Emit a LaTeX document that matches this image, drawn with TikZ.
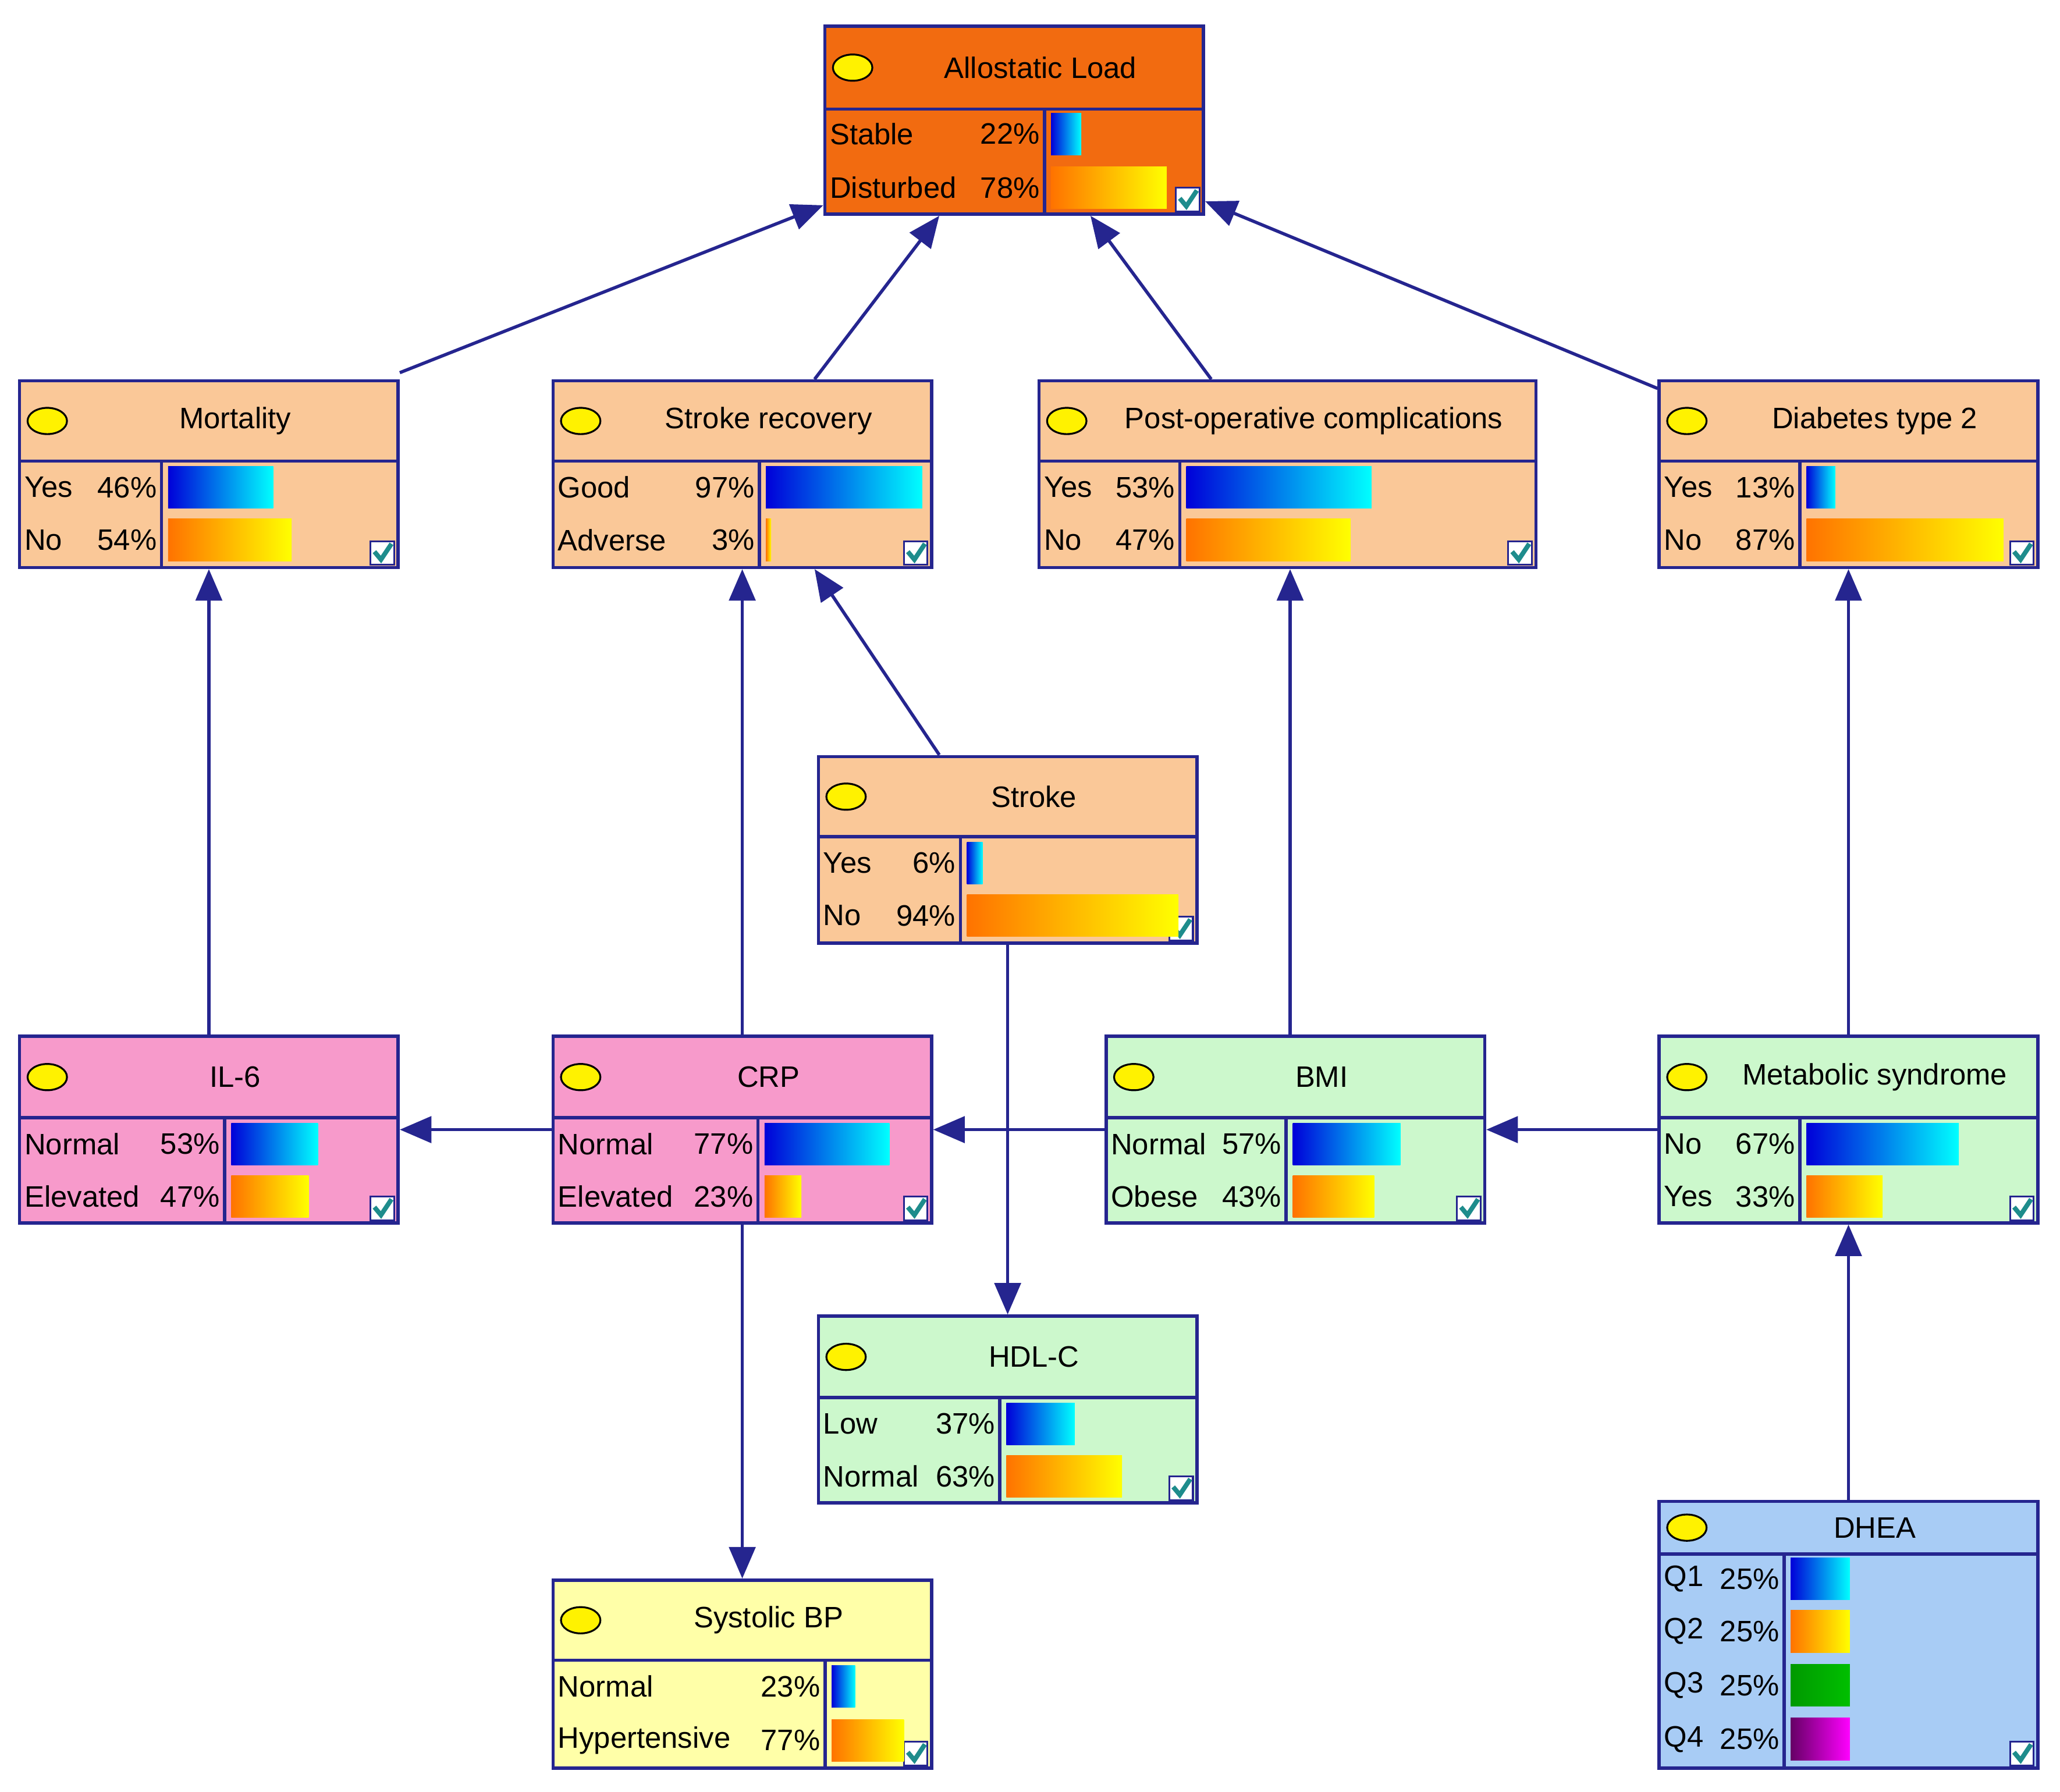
\documentclass[tikz,border=0pt]{standalone}
\usepackage{fontspec}
\setmainfont{Liberation Sans}
\usetikzlibrary{arrows.meta}
\definecolor{navy}{HTML}{25258F}
\definecolor{alc}{HTML}{F26B10}
\definecolor{peach}{HTML}{FAC898}
\definecolor{pinkc}{HTML}{F79ACB}
\definecolor{greenc}{HTML}{CCF8CC}
\definecolor{yelc}{HTML}{FFFFA8}
\definecolor{bluec}{HTML}{A8CCF5}
\definecolor{chk}{HTML}{1E8C8C}
\tikzset{
 box/.style={draw=navy, line width=0.7pt, inner sep=0pt, rectangle},
 boxline/.style={draw=navy, line width=0.7pt},
 ttl/.style={font=\fontsize{6.4}{7}\selectfont, inner sep=0pt},
 lbl/.style={font=\fontsize{6.4}{7}\selectfont, inner sep=0pt},
 edge/.style={draw=navy, line width=0.7pt, -{Triangle[length=0.24cm,width=0.2cm]}},
 bshade/.style={left color=blue!85!black, right color=cyan},
 oshade/.style={left color=orange!90!red, right color=yellow},
 gshade/.style={left color=green!60!black, right color=green!75!black},
 pshade/.style={left color=violet!80!black, right color=magenta},
}
\newcommand\bn[9]{%
 \pgfmathsetmacro\bw{(#4-#2)/100}\pgfmathsetmacro\bh{(#5-#3)/100}%
 \node[box, fill=#8, minimum width=\bw cm, minimum height=\bh cm] (#1) at ({(#2+#4)/2},{(#3+#5)/2}) {};
 \draw[boxline] (#2,#6) -- (#4,#6);
 \draw[boxline] (#7,#6) -- (#7,#5);
 \filldraw[fill=yellow, draw=black, line width=0.4pt] (#2+21,{(#3+#6)/2}) ellipse [x radius=15, y radius=10];
 \node[ttl] at ({(#2+40+#4)/2},{(#3+#6)/2}) {#9};
 \draw[fill=white, draw=navy, line width=0.4pt] (#4-21,#5-20) rectangle (#4-3,#5-2);
 \draw[chk, line width=1pt] (#4-18,#5-12) -- (#4-13,#5-6) -- (#4-5,#5-18);
}
\newcommand\brow[7]{%
 \node[lbl,anchor=west] at (#1+3,#3) {#4};
 \node[lbl,anchor=east] at (#2-3,#3) {#5};
 \shade[#7] (#2+5,#3-16) rectangle (#6,#3+16);
}
\begin{document}
\begin{tikzpicture}[x=0.01cm,y=-0.01cm]
\useasboundingbox (0,0) rectangle (1568,1364);
% Allostatic
\bn{al}{628}{20}{916}{163}{83}{795}{alc}{Allostatic Load}
\brow{628}{795}{102}{Stable}{22\%}{823}{bshade}
\brow{628}{795}{143}{Disturbed}{78\%}{888}{oshade}
% Mortality
\bn{mort}{15}{290}{303}{432}{351}{123}{peach}{Mortality}
\brow{15}{123}{371}{Yes}{46\%}{208}{bshade}
\brow{15}{123}{411}{No}{54\%}{222}{oshade}
% Stroke recovery
\bn{sr}{421}{290}{709}{432}{351}{578}{peach}{Stroke recovery}
\brow{421}{578}{371}{Good}{97\%}{702}{bshade}
\brow{421}{578}{411}{Adverse}{3\%}{587}{oshade}
% Post-op
\bn{post}{791}{290}{1169}{432}{351}{898}{peach}{Post-operative complications}
\brow{791}{898}{371}{Yes}{53\%}{1044}{bshade}
\brow{791}{898}{411}{No}{47\%}{1028}{oshade}
% Diabetes
\bn{diab}{1263}{290}{1551}{432}{351}{1370}{peach}{Diabetes type 2}
\brow{1263}{1370}{371}{Yes}{13\%}{1397}{bshade}
\brow{1263}{1370}{411}{No}{87\%}{1525}{oshade}
% Stroke
\bn{stroke}{623}{576}{911}{718}{637}{731}{peach}{Stroke}
\brow{623}{731}{657}{Yes}{6\%}{748}{bshade}
\brow{623}{731}{697}{No}{94\%}{897}{oshade}
% IL-6
\bn{il}{15}{789}{303}{931}{851}{171}{pinkc}{IL-6}
\brow{15}{171}{871}{Normal}{53\%}{242}{bshade}
\brow{15}{171}{911}{Elevated}{47\%}{235}{oshade}
% CRP
\bn{crp}{421}{789}{709}{931}{851}{577}{pinkc}{CRP}
\brow{421}{577}{871}{Normal}{77\%}{677}{bshade}
\brow{421}{577}{911}{Elevated}{23\%}{610}{oshade}
% BMI
\bn{bmi}{842}{789}{1130}{931}{851}{979}{greenc}{BMI}
\brow{842}{979}{871}{Normal}{57\%}{1066}{bshade}
\brow{842}{979}{911}{Obese}{43\%}{1046}{oshade}
% Metabolic
\bn{met}{1263}{789}{1551}{931}{851}{1370}{greenc}{Metabolic syndrome}
\brow{1263}{1370}{871}{No}{67\%}{1491}{bshade}
\brow{1263}{1370}{911}{Yes}{33\%}{1433}{oshade}
% HDL-C
\bn{hdl}{623}{1002}{911}{1144}{1064}{761}{greenc}{HDL-C}
\brow{623}{761}{1084}{Low}{37\%}{818}{bshade}
\brow{623}{761}{1124}{Normal}{63\%}{854}{oshade}
% SBP
\bn{sbp}{421}{1203}{709}{1346}{1264}{628}{yelc}{Systolic BP}
\brow{421}{628}{1284}{Normal}{23\%}{651}{bshade}
\brow{421}{628}{1325}{Hypertensive}{77\%}{688}{oshade}
% DHEA
\bn{dhea}{1263}{1143}{1551}{1346}{1183}{1358}{bluec}{DHEA}
\brow{1263}{1358}{1202}{Q1}{25\%}{1408}{bshade}
\brow{1263}{1358}{1242}{Q2}{25\%}{1408}{oshade}
\brow{1263}{1358}{1283}{Q3}{25\%}{1408}{gshade}
\brow{1263}{1358}{1324}{Q4}{25\%}{1408}{pshade}
% edges
\draw[edge] ([yshift=0.05cm]mort.north east) -- ([yshift=0.08cm]al.south west);
\draw[edge] ([xshift=0.55cm]sr.north) -- ([xshift=-0.57cm]al.south);
\draw[edge] ([xshift=-0.58cm]post.north) -- ([xshift=0.58cm]al.south);
\draw[edge] ([yshift=-0.07cm]diab.north west) -- ([yshift=0.11cm]al.south east);
\draw[edge] (il.north) -- (mort.south);
\draw[edge] (crp.north) -- (sr.south);
\draw[edge] ([xshift=-0.52cm]stroke.north) -- ([xshift=0.55cm]sr.south);
\draw[edge] (stroke.south) -- (hdl.north);
\draw[edge] ([xshift=-0.04cm]bmi.north) -- ([xshift=-0.04cm]bmi.north |- post.south);
\draw[edge] (met.north) -- (diab.south);
\draw[edge] (dhea.north) -- (met.south);
\draw[edge] (crp.west) -- (il.east);
\draw[edge] (bmi.west) -- (crp.east);
\draw[edge] (met.west) -- (bmi.east);
\draw[edge] (crp.south) -- (sbp.north);
\end{tikzpicture}
\end{document}
